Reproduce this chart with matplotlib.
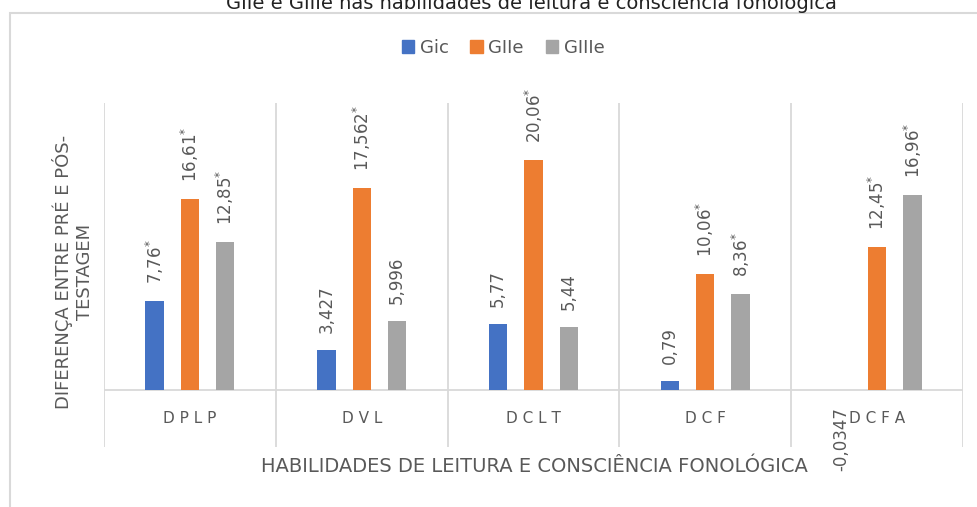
import matplotlib.pyplot as plt
import matplotlib.patches as mpatches
import numpy as np

plt.rcParams['font.family'] = ['DejaVu Sans']

# data
categories = ["D P L P", "D V L", "D C L T", "D C F", "D C F A"]
series_names = ["Gic", "GIIe", "GIIIe"]
gic = [7.76, 3.427, 5.77, 0.79, -0.0347]
giie = [16.61, 17.562, 20.06, 10.06, 12.45]
giiie = [12.85, 5.996, 5.44, 8.36, 16.96]
# labels shown on the bars ("*" = significant)
gic_labels = ["7,76*", "3,427", "5,77", "0,79", "-0,0347"]
giie_labels = ["16,61*", "17,562*", "20,06*", "10,06*", "12,45*"]
giiie_labels = ["12,85*", "5,996", "5,44", "8,36*", "16,96*"]

colors = ["#4472C4", "#ED7D31", "#A5A5A5"]
grid_c = "#D9D9D9"
text_c = "#595959"

fig = plt.figure(figsize=(9.77, 5.07), dpi=100)
ax = fig.add_axes([104 / 977, 1 - 447 / 507, 859 / 977, 344 / 507])

x = np.arange(len(categories))
offsets = [-0.206, 0.0, 0.206]
width = 0.107

all_vals = [gic, giie, giiie]
all_labels = [gic_labels, giie_labels, giiie_labels]

for s in range(3):
    ax.bar(x + offsets[s], all_vals[s], width, color=colors[s], zorder=3)
    for i in range(len(categories)):
        v = all_vals[s][i]
        lab = all_labels[s][i]
        if lab.endswith("*"):
            lab = lab[:-1] + "$^{*}$"
        if v >= 0:
            ax.annotate(lab, (x[i] + offsets[s], v), xytext=(0, 17),
                        textcoords="offset pixels", rotation=90,
                        ha="center", va="bottom", fontsize=12, color=text_c)
        else:
            ax.annotate(lab, (x[i] + offsets[s], v), xytext=(0, -17),
                        textcoords="offset pixels", rotation=90,
                        ha="center", va="top", fontsize=12, color=text_c)

# category separators and zero line
for k in range(len(categories) + 1):
    ax.axvline(k - 0.5, color=grid_c, lw=1.3, zorder=1)
ax.axhline(0, color=grid_c, lw=1.3, zorder=2)

for i in range(len(categories)):
    ax.text(x[i], -2.55, categories[i], ha="center", va="center",
            fontsize=11, color=text_c)

ax.set_xlim(-0.5, len(categories) - 0.5)
ax.set_ylim(-5, 25)
ax.set_xticks([])
ax.set_yticks([])
for sp in ax.spines.values():
    sp.set_visible(False)

fig.text(534 / 977, 1 - 466 / 507, "HABILIDADES DE LEITURA E CONSCIÊNCIA FONOLÓGICA",
         ha="center", va="center", fontsize=14, color=text_c)
fig.text(73 / 977, 1 - 272 / 507, "DIFERENÇA ENTRE PRÉ E PÓS-\nTESTAGEM",
         ha="center", va="center", rotation=90, fontsize=13, color=text_c,
         linespacing=1.25)

# title line, cut off at the top of the image as in the reference
fig.text(531 / 977, 1 - 9 / 507,
         "GIIe e GIIIe nas habilidades de leitura e consciência fonológica",
         ha="center", va="baseline", fontsize=14, color="#222222")

handles = [mpatches.Patch(color=c) for c in colors]
fig.legend(handles, series_names, loc="center", bbox_to_anchor=(503 / 977, 1 - 48 / 507),
           ncol=3, frameon=False, fontsize=13, handlelength=0.7, handleheight=0.7,
           handletextpad=0.3, columnspacing=1.2, labelcolor=text_c)

# chart frame
fig.patches.append(mpatches.Rectangle((10 / 977, -0.05), 1.0, 1 - 13 / 507 + 0.05,
                                      transform=fig.transFigure, fill=False,
                                      edgecolor=grid_c, lw=1.5))

fig.savefig("out.png", dpi=100)
